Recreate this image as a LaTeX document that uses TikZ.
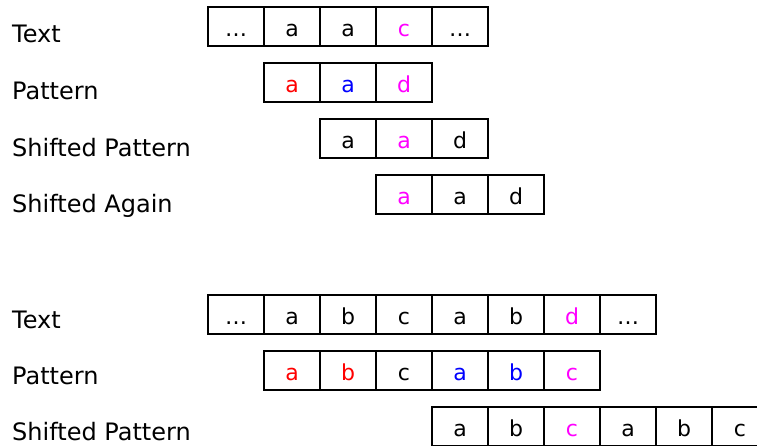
\documentclass[tikz,border=0pt]{standalone}
\usepackage{fontspec}
\setmainfont{DejaVu Sans}
\usetikzlibrary{positioning}
\definecolor{hitred}{RGB}{255,0,0}
\definecolor{hitblue}{RGB}{0,0,255}
\definecolor{miss}{RGB}{255,0,255}

\begin{document}
\begin{tikzpicture}[x=1pt, y=-1pt,
    cell/.style={draw=black, line width=1.8pt, minimum width=56pt, minimum height=39pt, inner sep=0pt, outer sep=0pt, text height=20pt, text depth=0pt, font=\fontsize{22}{22}\selectfont},
    rowlabel/.style={anchor=base west, inner sep=0pt, font=\fontsize{24}{24}\selectfont} ]

    \useasboundingbox (0,0) rectangle (757,446);
    \clip (0,0) rectangle (757,446);

    %Labels
    \node[rowlabel] (lbl_text1) at (12,43) {Text};
    \node[rowlabel] (lbl_pat1) at (12,100) {Pattern};
    \node[rowlabel] (lbl_shift1) at (12,157) {Shifted Pattern};
    \node[rowlabel] (lbl_again1) at (12,213) {Shifted Again};
    \node[rowlabel] (lbl_text2) at (12,328) {Text};
    \node[rowlabel] (lbl_pat2) at (12,384) {Pattern};
    \node[rowlabel] (lbl_shift2) at (12,440) {Shifted Pattern};

    %Cells, first example
    \foreach \c [count=\i] in {\ldots, a, a, \textcolor{miss}{c}, \ldots}
        \node[cell] (text1-\i) at ({180+56*\i},26.5) {\c};
    \foreach \c [count=\i] in {\textcolor{hitred}{a}, \textcolor{hitblue}{a}, \textcolor{miss}{d}}
        \node[cell] (pat1-\i) at ({236+56*\i},82.5) {\c};
    \foreach \c [count=\i] in {a, \textcolor{miss}{a}, d}
        \node[cell] (shift1-\i) at ({292+56*\i},138.5) {\c};
    \foreach \c [count=\i] in {\textcolor{miss}{a}, a, d}
        \node[cell] (again1-\i) at ({348+56*\i},194.5) {\c};

    %Cells, second example
    \foreach \c [count=\i] in {\ldots, a, b, c, a, b, \textcolor{miss}{d}, \ldots}
        \node[cell] (text2-\i) at ({180+56*\i},314.5) {\c};
    \foreach \c [count=\i] in {\textcolor{hitred}{a}, \textcolor{hitred}{b}, c, \textcolor{hitblue}{a}, \textcolor{hitblue}{b}, \textcolor{miss}{c}}
        \node[cell] (pat2-\i) at ({236+56*\i},370.5) {\c};
    \foreach \c [count=\i] in {a, b, \textcolor{miss}{c}, a, b, c}
        \node[cell] (shift2-\i) at ({404+56*\i},426.5) {\c};
\end{tikzpicture}
\end{document}
